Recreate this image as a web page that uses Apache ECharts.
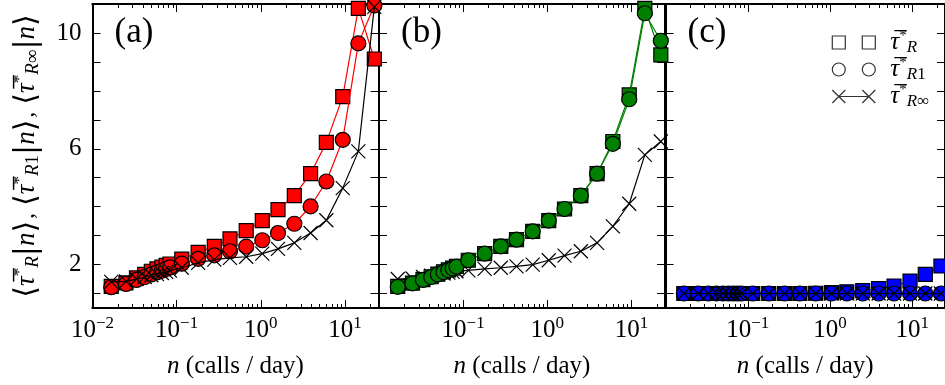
<!DOCTYPE html>
<html><head><meta charset="utf-8">
<script src="https://cdn.jsdelivr.net/npm/echarts@6/dist/echarts.min.js"></script>
<style>html,body{margin:0;padding:0;background:#fff}#c{width:945px;height:385px}</style>
</head><body><div id="c"></div>
<script>
// ---------------- data ----------------
const nValues = [0.0167, 0.025, 0.0333, 0.0417, 0.05, 0.0583, 0.0667, 0.075, 0.0833, 0.115, 0.18, 0.28, 0.43, 0.67, 1.04, 1.6, 2.5, 3.9, 6.0, 9.4, 14.4, 22.3];

const tauR_a    = [1.25, 1.37, 1.54, 1.66, 1.77, 1.85, 1.91, 1.97, 2.02, 2.19, 2.42, 2.63, 2.89, 3.17, 3.52, 3.90, 4.38, 5.14, 6.22, 7.80, 10.85, 9.10];
const tauR1_a   = [1.22, 1.33, 1.47, 1.57, 1.66, 1.73, 1.79, 1.85, 1.90, 2.03, 2.20, 2.32, 2.46, 2.62, 2.84, 3.09, 3.41, 4.01, 4.87, 6.31, 9.64, 10.95];
const tauRinf_a = [1.40, 1.42, 1.50, 1.57, 1.63, 1.67, 1.71, 1.75, 1.79, 1.89, 2.06, 2.17, 2.23, 2.27, 2.38, 2.54, 2.75, 3.09, 3.53, 4.64, 5.91, 10.9];

const tauR_b    = [1.25, 1.36, 1.48, 1.58, 1.67, 1.75, 1.82, 1.88, 1.94, 2.15, 2.38, 2.63, 2.86, 3.15, 3.52, 3.92, 4.38, 5.14, 6.25, 7.86, 10.85, 9.24];
const tauR1_b   = [1.23, 1.35, 1.47, 1.57, 1.66, 1.74, 1.81, 1.87, 1.93, 2.15, 2.38, 2.63, 2.86, 3.15, 3.52, 3.92, 4.38, 5.14, 6.17, 7.71, 10.68, 9.73];
const tauRinf_b = [1.50, 1.52, 1.57, 1.62, 1.66, 1.69, 1.72, 1.75, 1.77, 1.80, 1.85, 1.89, 1.94, 2.00, 2.15, 2.31, 2.46, 2.75, 3.32, 4.10, 5.79, 6.25];

const tauR_c    = [1.0, 1.0, 1.0, 1.0, 1.0, 1.0, 1.0, 1.0, 1.0, 1.0, 1.0, 1.0, 1.0, 1.01, 1.03, 1.06, 1.10, 1.17, 1.26, 1.43, 1.66, 1.95];
const tauR1_c   = [1.0, 1.0, 1.0, 1.0, 1.0, 1.0, 1.0, 1.0, 1.0, 1.0, 1.0, 1.0, 1.0, 1.0, 1.0, 1.0, 1.0, 1.0, 1.0, 1.0, 1.0, 1.0];
const tauRinf_c = [1.0, 1.0, 1.0, 1.0, 1.0, 1.0, 1.0, 1.0, 1.0, 1.0, 1.0, 1.0, 1.0, 1.0, 1.0, 1.0, 1.0, 1.0, 1.0, 1.0, 1.0, 1.0];

const xMajorTicks = [0.01, 0.1, 1, 10];
const xMinorTicks = [0.02,0.03,0.04,0.05,0.06,0.07,0.08,0.09,0.2,0.3,0.4,0.5,0.6,0.7,0.8,0.9,2,3,4,5,6,7,8,9,20];
const xLabelsA = [0.01, 0.1, 1, 10];
const xLabelsBC = [0.1, 1, 10];
const yTicks = [1,2,3,4,5,6,7,8,9,10];
const yLabels = [2, 6, 10];
const panelNames = ['(a)', '(b)', '(c)'];
const panelColors = ['#ff0000', '#008000', '#0000ff'];
const legendNames = ['τR', 'τR1', 'τR∞'];

// ---------------- layout ----------------
const FONT = 'Liberation Serif';
const grids = [
  {left: 92.5, top: 4, width: 286, height: 304},
  {left: 379, top: 4, width: 286, height: 304},
  {left: 665.5, top: 4, width: 286, height: 304}
];
const X_MIN = 0.01, X_MAX = 25, Y_MIN = 0.5, Y_MAX = 11;

const supRich = {
  b: {fontSize: 25, fontFamily: FONT, color: '#000'},
  s: {fontSize: 17, fontFamily: FONT, color: '#000', padding: [0, 0, 14, 0]}
};
function expLabel(v) {
  const e = Math.round(Math.log10(v));
  return '{b|10}{s|' + (e < 0 ? '\u2212' + (-e) : e) + '}';
}

const xAxes = [], yAxes = [];
grids.forEach((g, gi) => {
  const base = {
    type: 'log', logBase: 10, gridIndex: gi, min: X_MIN, max: X_MAX,
    axisLine: {show: true, lineStyle: {color: '#000', width: 2}},
    splitLine: {show: false}, minorTick: {show: false}, minorSplitLine: {show: false}
  };
  ['bottom', 'top'].forEach(pos => {
    xAxes.push(Object.assign({}, base, {
      position: pos,
      axisTick: {show: true, inside: true, length: 8, lineStyle: {color: '#000', width: 1}, customValues: xMajorTicks},
      axisLabel: pos === 'bottom' ? {
        show: true, customValues: gi === 0 ? xLabelsA : xLabelsBC, margin: 7,
        formatter: expLabel, rich: supRich, fontSize: 25, fontFamily: FONT, color: '#000'
      } : {show: false},
      name: pos === 'bottom' ? '{i|n} (calls / day)' : '',
      nameLocation: 'middle', nameGap: 46,
      nameTextStyle: {fontSize: 25, fontFamily: FONT, color: '#000',
        rich: {i: {fontSize: 25, fontFamily: FONT, fontStyle: 'italic', color: '#000'}}}
    }));
    xAxes.push(Object.assign({}, base, {
      position: pos,
      axisTick: {show: true, inside: true, length: 4, lineStyle: {color: '#000', width: 1}, customValues: xMinorTicks},
      axisLabel: {show: false}
    }));
  });
  ['left', 'right'].forEach(pos => {
    const isTitle = gi === 0 && pos === 'left';
    yAxes.push({
      type: 'value', gridIndex: gi, position: pos, min: Y_MIN, max: Y_MAX,
      axisLine: {show: true, lineStyle: {color: '#000', width: 2}},
      axisTick: {show: true, inside: true, length: 8, lineStyle: {color: '#000', width: 1}, customValues: yTicks},
      axisLabel: isTitle ? {show: true, customValues: yLabels, fontSize: 25, fontFamily: FONT, color: '#000', margin: 11} : {show: false},
      splitLine: {show: false},
      name: isTitle ?
        '{a|⟨}{t|τ\u0305}{p|*}{d|R}{a||}{i|n}{a|⟩}{c|,}{a|⟨}{t|τ\u0305}{p|*}{d|R}{e|1}{a||}{i|n}{a|⟩}{c|,}{a|⟨}{t|τ\u0305}{p|*}{d|R}{e|∞}{a||}{i|n}{a|⟩}' : '',
      nameLocation: 'middle', nameGap: 50,
      nameTextStyle: {fontSize: 24, fontFamily: FONT, color: '#000', rich: {
        a: {fontSize: 30, fontFamily: 'DejaVu Serif', color: '#000'},
        t: {fontSize: 27, fontFamily: FONT, fontStyle: 'italic', color: '#000'},
        p: {fontSize: 17, fontFamily: FONT, color: '#000', padding: [0, 0, 14, 0]},
        d: {fontSize: 19, fontFamily: FONT, fontStyle: 'italic', color: '#000', padding: [12, 0, 0, 0]},
        e: {fontSize: 19, fontFamily: FONT, color: '#000', padding: [12, 0, 0, 0]},
        i: {fontSize: 27, fontFamily: FONT, fontStyle: 'italic', color: '#000'},
        c: {fontSize: 24, fontFamily: FONT, color: '#000', padding: [0, 7, 0, 2]}
      }}
    });
  });
});

const SQUARE = 'rect';
const CIRCLE = 'circle';
const CROSS = 'path://M0,0L10,10M10,0L0,10';

function mk(name, gi, vals, symbol, fill, lineColor, z) {
  return {
    type: 'line', name: name, xAxisIndex: gi * 4, yAxisIndex: gi * 2,
    data: nValues.map((x, i) => [x, vals[i]]),
    symbol: symbol, symbolSize: symbol === CIRCLE ? 15 : 14, showAllSymbol: true, clip: true,
    itemStyle: {color: fill, borderColor: '#000', borderWidth: symbol === CROSS ? 1.2 : 1.2},
    lineStyle: {color: lineColor, width: 1.2},
    emphasis: {disabled: true}, z: z, animation: false
  };
}

const series = [
  mk('a_R', 0, tauR_a, SQUARE, panelColors[0], panelColors[0], 2),
  mk('a_R1', 0, tauR1_a, CIRCLE, panelColors[0], panelColors[0], 3),
  mk('a_Rinf', 0, tauRinf_a, CROSS, '#000', '#000', 4),
  mk('b_Rinf', 1, tauRinf_b, CROSS, '#000', '#000', 2),
  mk('b_R', 1, tauR_b, SQUARE, panelColors[1], panelColors[1], 3),
  mk('b_R1', 1, tauR1_b, CIRCLE, panelColors[1], panelColors[1], 4),
  mk('c_R', 2, tauR_c, SQUARE, panelColors[2], panelColors[2], 2),
  mk('c_R1', 2, tauR1_c, CIRCLE, panelColors[2], panelColors[2], 3),
  mk('c_Rinf', 2, tauRinf_c, CROSS, '#000', '#000', 4)
];
legendNames.forEach(nm => series.push({type: 'scatter', name: nm, xAxisIndex: 8, yAxisIndex: 4, data: [], itemStyle: {color: '#fff', borderColor: '#000'}}));

const legendIcons = [
  'path://M0,0h13v13h-13zM30,0h13v13h-13z',
  'path://M0,6.5a6.5,6.5 0 1,0 13,0a6.5,6.5 0 1,0 -13,0zM30,6.5a6.5,6.5 0 1,0 13,0a6.5,6.5 0 1,0 -13,0z',
  'path://M0,0L13,13M13,0L0,13M6.5,6.5L36.5,6.5M30,0L43,13M43,0L30,13'
];
const legendText = {
  'τR': '{t|τ\u0305}{p|*}{d|R}',
  'τR1': '{t|τ\u0305}{p|*}{d|R}{e|1}',
  'τR∞': '{t|τ\u0305}{p|*}{d|R}{e|∞}'
};

const option = {
  animation: false,
  backgroundColor: '#fff',
  grid: grids,
  xAxis: xAxes,
  yAxis: yAxes,
  series: series,
  legend: {
    orient: 'vertical', left: 826.7, top: 24, itemWidth: 43, itemHeight: 13, itemGap: 0,
    selectedMode: false, symbolKeepAspect: true,
    itemStyle: {color: '#fff', borderColor: '#000', borderWidth: 1.2},
    data: legendNames.map((nm, i) => ({name: nm, icon: legendIcons[i]})),
    formatter: nm => legendText[nm],
    textStyle: {fontSize: 24, fontFamily: FONT, color: '#000', padding: [0, 0, 0, 10], rich: {
      t: {fontSize: 25, fontFamily: FONT, fontStyle: 'italic', color: '#000'},
      p: {fontSize: 15, fontFamily: FONT, color: '#000', padding: [0, 0, 12, 0]},
      d: {fontSize: 17, fontFamily: FONT, fontStyle: 'italic', color: '#000', padding: [10, 0, 0, 0]},
      e: {fontSize: 17, fontFamily: FONT, color: '#000', padding: [10, 0, 0, 0]}
    }}
  },
  graphic: panelNames.map((t, i) => ({
    type: 'text', left: grids[i].left + 22, top: 15,
    style: {text: t, font: '35px "Liberation Serif"', fill: '#000'}
  }))
};

const chart = echarts.init(document.getElementById('c'), null, {renderer: 'canvas'});
chart.setOption(option);
</script>
</body></html>
